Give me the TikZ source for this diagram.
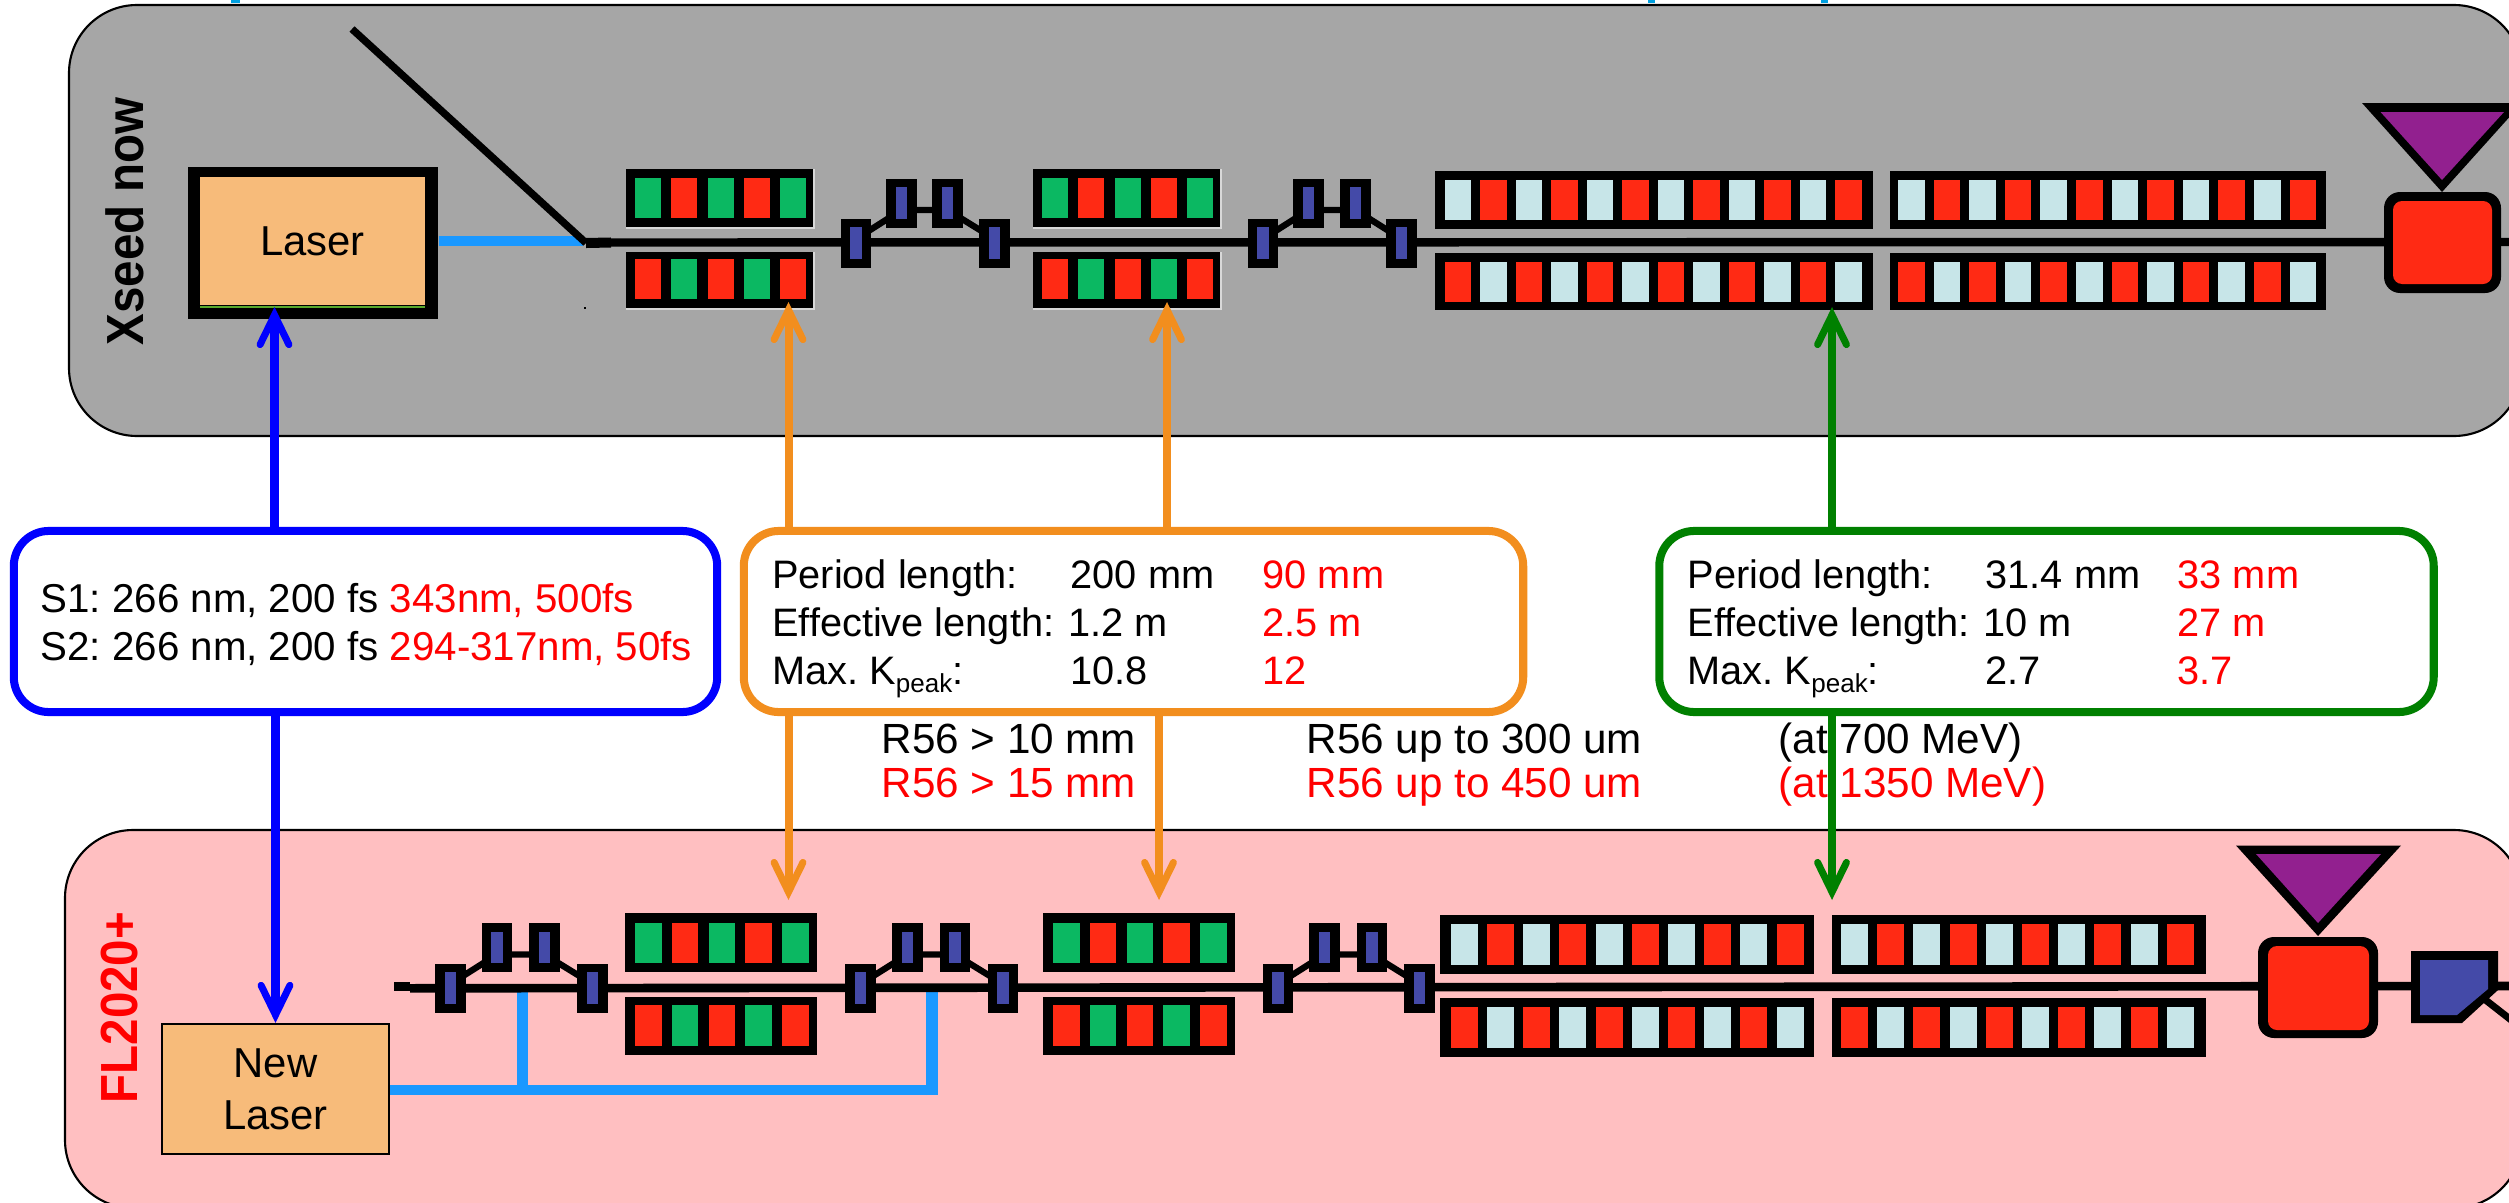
\documentclass[tikz,border=0pt]{standalone}
\usepackage{fontspec}
\setmainfont{Liberation Sans}
\usetikzlibrary{arrows.meta}
\frenchspacing
\definecolor{panelgrey}{HTML}{A6A6A6}
\definecolor{panelpink}{HTML}{FFBFC1}
\definecolor{laserorange}{HTML}{F7BB7A}
\definecolor{laserblue}{HTML}{1A98FF}
\definecolor{modgreen}{HTML}{0BB862}
\definecolor{modred}{HTML}{FF2A14}
\definecolor{radlight}{HTML}{C7E5E8}
\definecolor{magblue}{HTML}{444AA8}
\definecolor{rfpurple}{HTML}{92208F}
\definecolor{boxorange}{HTML}{F28E1E}
\definecolor{boxgreen}{HTML}{008000}
\definecolor{titleblue}{HTML}{00A0E0}
\definecolor{haze}{HTML}{D8D8D8}
\tikzset{
  panel/.style={draw=black,line width=0.6pt,rounded corners=0.68cm},
  infobox/.style={rectangle,draw,fill=white,line width=2.28pt,rounded corners=0.35cm,inner sep=0pt,minimum height=1.81cm},
  txt/.style={anchor=base west,inner sep=0pt,font=\fontsize{11.3}{13.6}\selectfont},
  rtxt/.style={txt,text=red},
  stxt/.style={txt,font=\fontsize{11.45}{13.6}\selectfont},
  ltxt/.style={txt,font=\fontsize{12}{14}\selectfont},
  lrtxt/.style={ltxt,text=red},
  side/.style={rotate=90,anchor=base west,inner sep=0pt,font=\fontsize{13.5}{16}\selectfont\bfseries},
  connto/.style={line width=2.28pt,-{Straight Barb[length=8.4pt,width=8.2pt,line width=2pt,line cap=round,line join=miter]}},
  laserline/.style={draw=laserblue,line width=2.85pt},
  lasertap/.style={draw=laserblue,line width=3.2pt},
  beam/.style={draw=black,line width=2.4pt},
  link/.style={draw=black,line width=1.8pt}
}
% alternating bars: start x, pitch, count, width, y1, y2, first colour, second colour
\newcommand{\barrow}[8]{%
  \foreach \i in {1,...,#3}{%
    \pgfmathtruncatemacro{\odd}{mod(\i,2)}%
    \ifnum\odd=1\relax
      \fill[#7] ({#1+(\i-1)*#2},#5) rectangle ({#1+(\i-1)*#2+#4},#6);
    \else
      \fill[#8] ({#1+(\i-1)*#2},#5) rectangle ({#1+(\i-1)*#2+#4},#6);
    \fi
  }%
}
% magnet centred at x,y
\newcommand{\magnet}[2]{%
  \fill[black] ({#1-15.3},{#2-24.5}) rectangle ({#1+15.3},{#2+24.5});
  \fill[magblue] ({#1-5.8},{#2-15.7}) rectangle ({#1+5.8},{#2+15.7});
}
% chicane: four centre x, low y, high y
\newcommand{\chicane}[6]{%
  \draw[link] (#1,{#5-4}) -- (#2,{#6+7}) -- (#3,{#6+7}) -- (#4,{#5-4});
  \magnet{#1}{#5}\magnet{#2}{#6}\magnet{#3}{#6}\magnet{#4}{#5}
}
\begin{document}
\begin{tikzpicture}[x=0.01cm,y=-0.01cm]
\useasboundingbox (0,0) rectangle (2509,1203);
\clip (0,0) rectangle (2509,1203);
\fill[white] (0,0) rectangle (2509,1203);

% cut-off strokes at the top edge
\fill[titleblue] (231,0) rectangle (240,3);
\fill[titleblue] (1648,0) rectangle (1655,3);
\fill[titleblue] (1821,0) rectangle (1828,3);

% panels
\draw[panel,fill=panelgrey] (69,5) rectangle (2522,436);
\draw[panel,fill=panelpink] (65,830) rectangle (2522,1208);

% side labels
\node[side,text=black] (xseedlabel) at (143,346) {\scalebox{1}[1.1]{Xseed now}};
\node[side,text=red] (fllabel) at (137,1104) {\scalebox{1}[1.1]{FL2020+}};

%%% Upper beamline
\node[fill=black,inner sep=0pt,minimum width=2.5cm,minimum height=1.52cm] (laserframe) at (313,243) {};
\node[fill=laserorange,inner sep=0pt,minimum width=2.25cm,minimum height=1.28cm,font=\fontsize{11.9}{14}\selectfont] (laser) at (312.5,241) {Laser};
\fill[black!40!laserorange!60!green] (200,306.3) rectangle (425,308);
\coordinate (inj) at (583,241);
\draw[laserline] (laserframe.east |- inj) -- (inj);
\coordinate (dogleg) at (352,29);
\coordinate (joint) at (586,243);
\coordinate (beamstart) at (611,242.5);
\coordinate (rfend) at (2509,242);
\draw[draw=black,line width=2.1pt] (dogleg) -- (joint);
\draw[draw=black,line width=2.85pt] (joint) -- (beamstart);
\draw[beam] (beamstart) -- (rfend);
\fill[black] (584,307) rectangle (586,309);

% modulators, upper
\foreach \dx in {0,407}{
  \fill[haze] ({626+\dx},169) rectangle ({815+\dx},229);
  \fill[haze] ({626+\dx},252) rectangle ({815+\dx},310);
  \fill[black] ({626+\dx},169) rectangle ({813+\dx},227);
  \fill[black] ({626+\dx},252) rectangle ({813+\dx},308);
  \barrow{635+\dx}{36.25}{5}{26}{178}{218}{modgreen}{modred}
  \barrow{635+\dx}{36.25}{5}{26}{259}{299}{modred}{modgreen}
}
\chicane{856}{901.5}{947.5}{994.5}{243}{203}
\chicane{1263}{1308.5}{1355.5}{1401.5}{243}{203}

% radiators, upper
\fill[black] (1435,171) rectangle (1873,229);
\fill[black] (1890,171) rectangle (2326,229);
\fill[black] (1435,253) rectangle (1873,310);
\fill[black] (1890,253) rectangle (2326,310);
\barrow{1444.5}{35.5}{12}{26.5}{180}{220}{radlight}{modred}
\barrow{1898}{35.6}{12}{26.5}{180}{220}{radlight}{modred}
\barrow{1444.5}{35.5}{12}{26.5}{262}{302}{modred}{radlight}
\barrow{1898}{35.6}{12}{26.5}{262}{302}{modred}{radlight}

% RF + triangle, upper
\fill[black] (2362,103) -- (2522,103) -- (2442,192) -- cycle;
\fill[rfpurple] (2380.5,112) -- (2504,112) -- (2442,180) -- cycle;
\fill[black,rounded corners=0.16cm] (2384,192) rectangle (2501,293);
\fill[modred,rounded corners=0.09cm] (2393,201) rectangle (2492,284);

%%% Lower beamline
\node[draw=black,fill=laserorange,line width=0.6pt,inner sep=0pt,minimum width=2.27cm,minimum height=1.30cm,align=center,font=\fontsize{11.9}{14.9}\selectfont] (newlaser) at (275.5,1089) {New\\Laser};
\coordinate (bus1) at (522.5,1090);
\coordinate (bus2) at (933,1090);
\coordinate (tap1) at (522.5,992);
\coordinate (tap2) at (932,992);
\draw[laserline] (newlaser.east |- bus1) -- (bus2);
\draw[lasertap] (bus1) -- (tap1);
\draw[lasertap] (bus2 -| tap2) ++(0,5) -- (tap2);
\coordinate (lowstart) at (394,986.7);
\coordinate (lowmain) at (410,988.3);
\coordinate (lowend) at (2509,986);
\draw[draw=black,line width=2.7pt] (lowstart) -- (lowmain |- lowstart);
\draw[draw=black,line width=2.45pt] (lowmain) -- (lowend);

\chicane{450.3}{497}{544.5}{592.5}{988}{947.5}
\chicane{860.5}{907.5}{955}{1003}{988}{947.5}
\chicane{1278}{1324.5}{1372}{1419.5}{988}{947.5}

% modulators, lower
\foreach \dx in {0,418}{
  \fill[black] ({625+\dx},913) rectangle ({817+\dx},972);
  \fill[black] ({625+\dx},997) rectangle ({817+\dx},1055);
  \barrow{635+\dx}{36.75}{5}{26.5}{922.5}{963}{modgreen}{modred}
  \barrow{635+\dx}{36.75}{5}{26.5}{1005}{1046}{modred}{modgreen}
}
% radiators, lower
\fill[black] (1440,915) rectangle (1814,974);
\fill[black] (1832,915) rectangle (2205.5,974);
\fill[black] (1440,998) rectangle (1814,1057);
\fill[black] (1832,998) rectangle (2205.5,1057);
\barrow{1450.7}{36.2}{10}{27}{924}{965}{radlight}{modred}
\barrow{1841}{36.2}{10}{27}{924}{965}{radlight}{modred}
\barrow{1450.7}{36.2}{10}{27}{1007}{1048}{modred}{radlight}
\barrow{1841}{36.2}{10}{27}{1007}{1048}{modred}{radlight}

% RF + triangle, lower
\fill[black] (2236,845.5) -- (2401,845.5) -- (2318,936) -- cycle;
\fill[rfpurple] (2256,854) -- (2381,854) -- (2318,923) -- cycle;
\fill[black,rounded corners=0.16cm] (2258,937) rectangle (2378,1038);
\fill[modred,rounded corners=0.09cm] (2268,946) rectangle (2369,1030);

% dump magnet, lower
\coordinate (dump1) at (2483,998);
\coordinate (dump2) at (2515,1023);
\draw[draw=black,line width=2pt] (dump1) -- (dump2);
\fill[black] (2411,951) -- (2498,951) -- (2498,990) -- (2462,1023) -- (2411,1023) -- cycle;
\fill[magblue] (2420,960) -- (2488,960) -- (2488,989) -- (2457,1015) -- (2420,1015) -- cycle;

%%% info boxes (anchors for the arrows)
\coordinate (topL) at (274.5,307);
\coordinate (topO1) at (788.5,302);
\coordinate (topO2) at (1167,302);
\coordinate (topG) at (1832,307);
\coordinate (lowO1) at (788.5,900);
\coordinate (lowO2) at (1159,900);
\coordinate (lowG) at (1832,900);

\node[infobox,draw=blue,minimum width=7.03cm] (sbox) at (365.5,621.5) {};
\node[infobox,draw=boxorange,minimum width=7.79cm] (ubox) at (1133.5,621.5) {};
\node[infobox,draw=boxgreen,minimum width=7.74cm] (rbox) at (2046.5,621.5) {};

% R56 text comes under the green connector
\node[ltxt] (r1) at (881,753) {R56 > 10 mm};
\node[lrtxt] (r2) at (881,797) {R56 > 15 mm};
\node[ltxt] (r3) at (1306,753) {R56 up to 300 um};
\node[lrtxt] (r4) at (1306,797) {R56 up to 450 um};
\node[ltxt] (r5) at (1778,753) {(at 700 MeV)};
\node[lrtxt] (r6) at (1778,797) {(at 1350 MeV)};

\draw[connto,draw=blue,blue] (sbox.north -| topL) -- (topL);
\draw[connto,draw=blue,blue] (sbox.south -| newlaser.north) -- (newlaser.north);
\draw[connto,draw=boxorange,boxorange] (ubox.north -| topO1) -- (topO1);
\draw[connto,draw=boxorange,boxorange] (ubox.north -| topO2) -- (topO2);
\draw[connto,draw=boxorange,boxorange] (ubox.south -| lowO1) -- (lowO1);
\draw[connto,draw=boxorange,boxorange] (ubox.south -| lowO2) -- (lowO2);
\draw[connto,draw=boxgreen,boxgreen] (rbox.north -| topG) -- (topG);
\draw[connto,draw=boxgreen,boxgreen] (rbox.south -| lowG) -- (lowG);

% box texts
\node[stxt] (s1) at (40,612) {S1: 266 nm, 200 fs \textcolor{red}{343nm, 500fs}};
\node[stxt] (s2) at (40,660) {S2: 266 nm, 200 fs \textcolor{red}{294-317nm, 50fs}};

\node[txt] (u1) at (771.5,588) {Period length:};
\node[txt] (u2) at (771.5,636) {Effective length:};
\node[txt] (u3) at (771.5,684) {Max. K\raisebox{-2.3pt}{\fontsize{7.4}{8}\selectfont peak}:};
\node[txt] (u4) at (1070,588) {200 mm};
\node[txt] (u5) at (1068,636) {1.2 m};
\node[txt] (u6) at (1070,684) {10.8};
\node[rtxt] (u7) at (1262,588) {90 mm};
\node[rtxt] (u8) at (1262,636) {2.5 m};
\node[rtxt] (u9) at (1262,684) {12};

\node[txt] (v1) at (1687,588) {Period length:};
\node[txt] (v2) at (1687,636) {Effective length:};
\node[txt] (v3) at (1687,684) {Max. K\raisebox{-2.3pt}{\fontsize{7.4}{8}\selectfont peak}:};
\node[txt] (v4) at (1985,588) {31.4 mm};
\node[txt] (v5) at (1983,636) {10 m};
\node[txt] (v6) at (1985,684) {2.7};
\node[rtxt] (v7) at (2177,588) {33 mm};
\node[rtxt] (v8) at (2177,636) {27 m};
\node[rtxt] (v9) at (2177,684) {3.7};
\end{tikzpicture}
\end{document}
